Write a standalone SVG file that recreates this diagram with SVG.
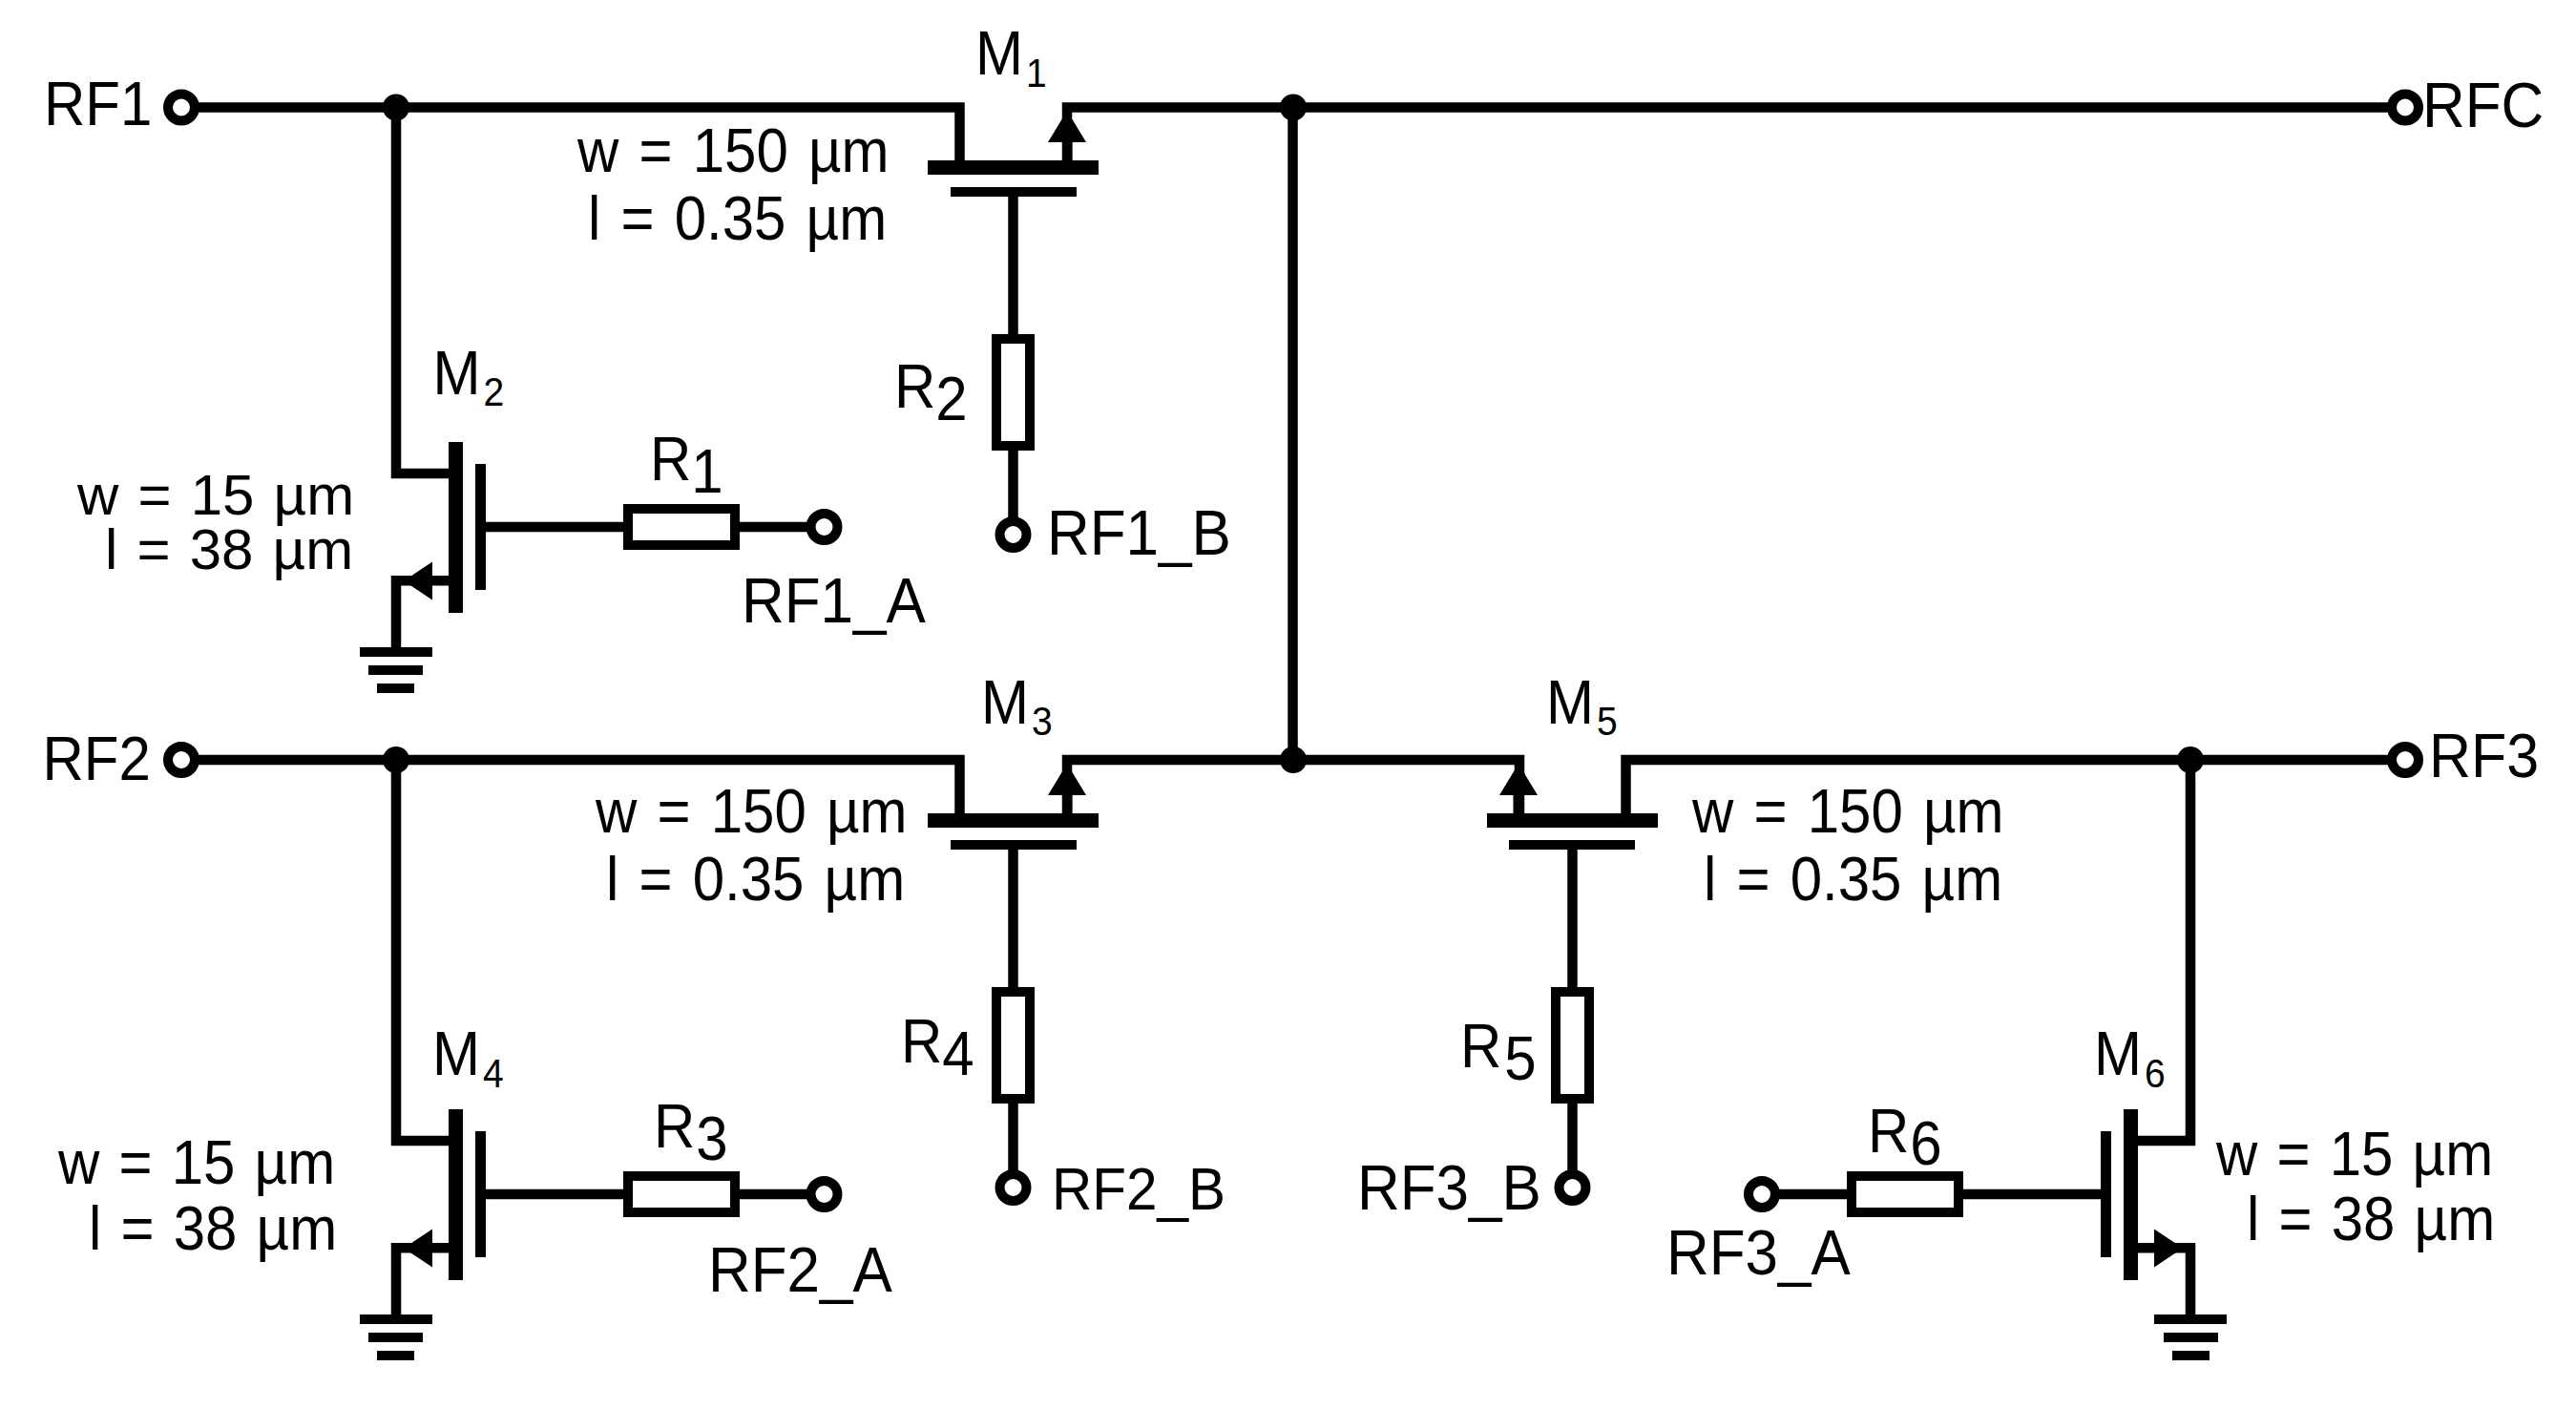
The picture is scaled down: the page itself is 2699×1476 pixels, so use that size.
<svg xmlns="http://www.w3.org/2000/svg" xmlns:xlink="http://www.w3.org/1999/xlink" width="2699" height="1476" viewBox="0 0 2699 1476">
<style>
text{font-family:"Liberation Sans",Arial,sans-serif;font-size:60px;fill:#000}
.big{font-size:62px}
.mid{font-size:61px}
.small{font-size:58.500px}
.sub{font-size:39px}
.w{word-spacing:4.500px}
.x{word-spacing:3.500px}
.wire{fill:none;stroke:#000;stroke-width:10.5;stroke-linejoin:miter}
.body{fill:#fff;stroke:#000;stroke-width:10}
.k{fill:#000}
.term{fill:#fff;stroke:#000;stroke-width:10}
</style>
<defs>
<g id="mosH">
<rect class="k" x="972" y="168" width="179" height="15"/>
<rect class="k" x="996" y="196" width="132" height="10"/>
<rect class="k" x="1113" y="140" width="10.500" height="30"/>
<polygon class="k" points="1118,116 1138,149 1098,149"/>
</g>
<g id="mosV">
<rect class="k" x="470" y="463" width="15" height="179"/>
<rect class="k" x="498" y="486" width="11" height="132"/>
<rect class="k" x="445" y="603" width="27" height="10.500"/>
<polygon class="k" points="423,608.500 453,588.500 453,628.500"/>
</g>
<g id="gnd">
<rect class="k" x="377" y="678" width="76" height="10"/>
<rect class="k" x="386" y="697" width="57" height="10"/>
<rect class="k" x="395" y="716" width="39" height="10"/>
</g>
</defs>
<g id="connectors">
<path class="wire" d="M190 112.500H1005.500V170"/>
<path class="wire" d="M1118 170V112.500H2520"/>
<path class="wire" d="M1354.500 112.500V796"/>
<path class="wire" d="M1061.500 204V560"/>
<path class="wire" d="M415 112.500V496H472"/>
<path class="wire" d="M415 680V608.250H450"/>
<path class="wire" d="M505 552H863"/>
<path class="wire" d="M190 796H1005.500V854"/>
<path class="wire" d="M1118 854V796H1592V854"/>
<path class="wire" d="M1703.500 854V796H2520"/>
<path class="wire" d="M1061.500 888V1244"/>
<path class="wire" d="M1647.500 888V1244"/>
<path class="wire" d="M415 796V1195H472"/>
<path class="wire" d="M415 1379V1307.250H450"/>
<path class="wire" d="M505 1251H863"/>
<path class="wire" d="M2295 796V1195H2238"/>
<path class="wire" d="M2295 1379V1307.250H2260"/>
<path class="wire" d="M2205 1251H1846"/>
</g>
<g id="M1"><use xlink:href="#mosH" href="#mosH"/></g>
<g id="M3"><use xlink:href="#mosH" href="#mosH" transform="translate(0 684)"/></g>
<g id="M5"><use xlink:href="#mosH" href="#mosH" transform="translate(2709 684) scale(-1 1)"/></g>
<g id="M2"><use xlink:href="#mosV" href="#mosV"/></g>
<g id="M4"><use xlink:href="#mosV" href="#mosV" transform="translate(0 699)"/></g>
<g id="M6"><use xlink:href="#mosV" href="#mosV" transform="translate(2710 699) scale(-1 1)"/></g>
<g id="GND1"><use xlink:href="#gnd" href="#gnd"/></g>
<g id="GND2"><use xlink:href="#gnd" href="#gnd" transform="translate(0 699)"/></g>
<g id="GND3"><use xlink:href="#gnd" href="#gnd" transform="translate(2710 699) scale(-1 1)"/></g>
<g id="R1_body"><rect class="body" x="658" y="533" width="112" height="38"/></g>
<g id="R2_body"><rect class="body" x="1044" y="355" width="35" height="112"/></g>
<g id="R3_body"><rect class="body" x="658" y="1232" width="112" height="38"/></g>
<g id="R4_body"><rect class="body" x="1044" y="1039" width="35" height="112"/></g>
<g id="R5_body"><rect class="body" x="1630" y="1039" width="35" height="112"/></g>
<g id="R6_body"><rect class="body" x="1940" y="1232" width="112" height="38"/></g>
<g id="junctions">
<circle class="k" cx="415" cy="112.500" r="14"/>
<circle class="k" cx="1355" cy="112.500" r="14"/>
<circle class="k" cx="415" cy="796" r="14"/>
<circle class="k" cx="1355" cy="796" r="14"/>
<circle class="k" cx="2295" cy="796" r="14"/>
</g>
<g id="T_RF1"><circle class="term" cx="190" cy="112.500" r="14"/><text transform="translate(46 131) scale(1 1.07)">RF1</text></g>
<g id="T_RFC"><circle class="term" cx="2520" cy="112.500" r="14"/><text class="big" transform="translate(2538 133) scale(1 1.07)">RFC</text></g>
<g id="T_RF2"><circle class="term" cx="190" cy="796" r="14"/><text transform="translate(44.500 816.500) scale(1 1.07)">RF2</text></g>
<g id="T_RF3"><circle class="term" cx="2520" cy="796" r="14"/><text class="mid" transform="translate(2545 814) scale(1 1.07)">RF3</text></g>
<g id="T_RF1_A"><circle class="term" cx="863.500" cy="552" r="14"/><text class="big" transform="translate(777 652) scale(1 1.07)">RF1_A</text></g>
<g id="T_RF1_B"><circle class="term" cx="1061.500" cy="560" r="14"/><text class="big" transform="translate(1097 580.500) scale(1 1.07)">RF1_B</text></g>
<g id="T_RF2_A"><circle class="term" cx="863.500" cy="1251" r="14"/><text class="big" transform="translate(742 1353) scale(1 1.07)">RF2_A</text></g>
<g id="T_RF2_B"><circle class="term" cx="1061.500" cy="1244" r="14"/><text class="small" transform="translate(1102 1267) scale(1 1.07)">RF2_B</text></g>
<g id="T_RF3_A"><circle class="term" cx="1846" cy="1251" r="14"/><text class="big" transform="translate(1746 1335) scale(1 1.07)">RF3_A</text></g>
<g id="T_RF3_B"><circle class="term" cx="1647.500" cy="1244" r="14"/><text class="big" transform="translate(1422 1267) scale(1 1.07)">RF3_B</text></g>
<g id="labels">
<text transform="translate(1022 78) scale(1 1.07)">M<tspan class="sub" dx="3" dy="12">1</tspan></text>
<text transform="translate(453.500 412.500) scale(1 1.07)">M<tspan class="sub" dx="3" dy="12">2</tspan></text>
<text transform="translate(1028 758) scale(1 1.07)">M<tspan class="sub" dx="3" dy="11">3</tspan></text>
<text transform="translate(453 1126) scale(1 1.07)">M<tspan class="sub" dx="3" dy="12">4</tspan></text>
<text transform="translate(1620 758) scale(1 1.07)">M<tspan class="sub" dx="3" dy="11">5</tspan></text>
<text transform="translate(2194 1126) scale(1 1.07)">M<tspan class="sub" dx="3" dy="12">6</tspan></text>
<text transform="translate(681 502.500) scale(1 1.07)">R<tspan dy="13">1</tspan></text>
<text transform="translate(937 427) scale(1 1.07)">R<tspan dy="12">2</tspan></text>
<text transform="translate(685 1202) scale(1 1.07)">R<tspan dx="1" dy="12">3</tspan></text>
<text transform="translate(944 1113) scale(1 1.07)">R<tspan dy="12">4</tspan></text>
<text transform="translate(1530 1118) scale(1 1.07)">R<tspan dx="3" dy="12">5</tspan></text>
<text transform="translate(1957 1207) scale(1 1.07)">R<tspan dx="1" dy="12">6</tspan></text>
<text class="w" transform="translate(605 179.500) scale(1 1.07)">w = 150 µm</text>
<text class="w" transform="translate(616 251) scale(1 1.07)">l = 0.35 µm</text>
<text class="w" transform="translate(624 872) scale(1 1.07)">w = 150 µm</text>
<text class="w" transform="translate(635 943) scale(1 1.07)">l = 0.35 µm</text>
<text class="w" transform="translate(1773 872) scale(1 1.07)">w = 150 µm</text>
<text class="w" transform="translate(1785 943) scale(1 1.07)">l = 0.35 µm</text>
<text class="x" transform="translate(81 538.500) scale(1 0.98)">w = 15 µm</text>
<text class="x" transform="translate(110 596) scale(1 0.98)">l = 38 µm</text>
<text class="x" transform="translate(61 1240) scale(1 1.07)">w = 15 µm</text>
<text class="x" transform="translate(93 1309) scale(1 1.07)">l = 38 µm</text>
<text class="x" transform="translate(2322 1231) scale(1 1.07)">w = 15 µm</text>
<text class="x" transform="translate(2354 1299) scale(1 1.07)">l = 38 µm</text>
</g>
</svg>
